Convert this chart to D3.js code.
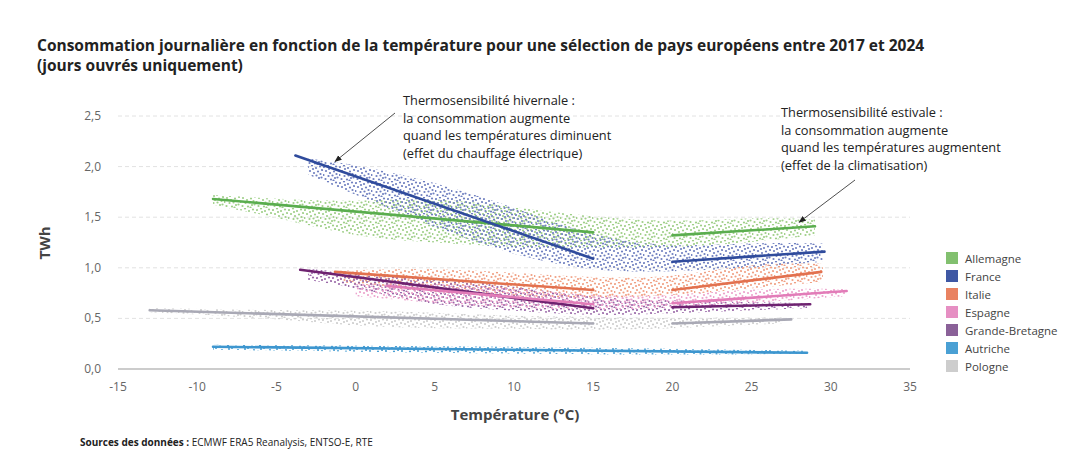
<!DOCTYPE html>
<html>
<head>
<meta charset="utf-8">
<script src="https://cdn.jsdelivr.net/npm/d3@7"></script>
<style>
  body { margin: 0; background: #fff; font-family: "Open Sans", sans-serif; }
</style>
</head>
<body>
<svg id="chart"></svg>
<script>
const width = 1090;
const height = 467;

const countries = ['Allemagne', 'France', 'Italie', 'Espagne', 'Grande-Bretagne', 'Autriche', 'Pologne'];
const lineColors = ['#5aad4e', '#2f4b9c', '#e2714f', '#e27cb8', '#6e2270', '#3d96cf', '#a9a9b5'];
const dotColors = ['#9fcf88', '#6f7fc0', '#f0a083', '#eca2cc', '#9a68a8', '#4aa0d4', '#cdcdcd'];
const legendColors = ['#82c06f', '#3f58a4', '#e98261', '#e68fc3', '#8a6198', '#4aa0d4', '#cdcdcd'];

// regression segments: [t1, v1, t2, v2]
const winterLines = [
  [-9, 1.68, 15, 1.35],
  [-3.8, 2.11, 15, 1.09],
  [-1.3, 0.96, 15, 0.78],
  [2, 0.82, 15, 0.64],
  [-3.5, 0.98, 15, 0.60],
  [-9, 0.22, 28.5, 0.16],
  [-13, 0.58, 15, 0.45]
];
const summerLines = [
  [20, 1.32, 29, 1.41],
  [20, 1.06, 29.6, 1.16],
  [20, 0.78, 29.4, 0.96],
  [20, 0.65, 31, 0.77],
  [20, 0.61, 28.7, 0.64],
  null,
  [20, 0.45, 27.5, 0.49]
];

// scatter clouds: [temperature, low, high]
const clouds = [
  [[-9, 1.62, 1.72], [-5, 1.5, 1.68], [0, 1.3, 1.65], [5, 1.25, 1.7], [10, 1.2, 1.6], [15, 1.2, 1.5], [20, 1.2, 1.45], [25, 1.25, 1.5], [29, 1.32, 1.48]],
  [[-3, 1.92, 2.08], [0, 1.72, 2.02], [5, 1.4, 1.85], [10, 1.12, 1.6], [15, 0.96, 1.3], [20, 0.96, 1.2], [25, 1.0, 1.25], [29.5, 1.06, 1.24]],
  [[-1, 0.86, 0.97], [5, 0.75, 1.0], [10, 0.72, 0.95], [15, 0.7, 0.9], [20, 0.72, 0.9], [25, 0.8, 1.05], [29.5, 0.86, 1.04]],
  [[0, 0.72, 0.84], [5, 0.65, 0.85], [10, 0.6, 0.8], [15, 0.58, 0.72], [20, 0.6, 0.72], [25, 0.65, 0.8], [31, 0.72, 0.79]],
  [[-3, 0.88, 0.99], [0, 0.8, 0.95], [5, 0.62, 0.9], [10, 0.58, 0.82], [15, 0.52, 0.7], [20, 0.55, 0.68], [25, 0.58, 0.66], [28.5, 0.6, 0.65]],
  [[-9, 0.19, 0.24], [0, 0.17, 0.23], [10, 0.15, 0.22], [20, 0.14, 0.2], [28.5, 0.15, 0.18]],
  [[-13, 0.56, 0.6], [-5, 0.5, 0.58], [0, 0.42, 0.58], [5, 0.4, 0.56], [10, 0.4, 0.52], [15, 0.38, 0.52], [20, 0.4, 0.5], [27, 0.45, 0.51]]
];

const xTicks = [-15, -10, -5, 0, 5, 10, 15, 20, 25, 30, 35];
const yTicks = [0, 0.5, 1, 1.5, 2, 2.5];

const svg = d3.select('#chart').attr('width', width).attr('height', height);

const x = d3.scaleLinear().domain([-15, 35]).range([118, 910]);
const y = d3.scaleLinear().domain([0, 2.5]).range([369, 116]);

const fmt = d => d3.format('.1f')(d).replace('.', ',');

// title
svg.append('text').attr('x', 37).attr('y', 51)
  .attr('font-size', 15.5).attr('font-weight', 700).attr('fill', '#222')
  .text('Consommation journalière en fonction de la température pour une sélection de pays européens entre 2017 et 2024');
svg.append('text').attr('x', 37).attr('y', 71)
  .attr('font-size', 15.5).attr('font-weight', 700).attr('fill', '#222')
  .text('(jours ouvrés uniquement)');

// grid
svg.append('g').selectAll('line').data(yTicks.filter(d => d > 0)).enter().append('line')
  .attr('x1', x(-15)).attr('x2', x(35))
  .attr('y1', d => y(d)).attr('y2', d => y(d))
  .attr('stroke', '#e2e2e2').attr('stroke-dasharray', '4,3');

svg.append('g').selectAll('text').data(yTicks).enter().append('text')
  .attr('x', 101).attr('y', d => y(d) + 4).attr('text-anchor', 'end')
  .attr('font-size', 12).attr('fill', '#666').text(fmt);

svg.append('g').selectAll('text').data(xTicks).enter().append('text')
  .attr('x', d => x(d)).attr('y', 391).attr('text-anchor', 'middle')
  .attr('font-size', 12).attr('fill', '#666').text(d => d);

// dot patterns mimicking the scatter clouds
const defs = svg.append('defs');
const tile = [[1, 2], [5, 0.5], [9, 3], [13, 1.5], [3, 6], [7, 8], [11, 6.5], [15, 5], [0.5, 10], [5.5, 11],
  [9.5, 10.5], [13.5, 9], [2.5, 14], [8, 14.5], [12, 13], [6, 4], [10.5, 15.5], [14.5, 12.5]];
countries.forEach((c, i) => {
  const p = defs.append('pattern').attr('id', 'dots' + i)
    .attr('patternUnits', 'userSpaceOnUse').attr('width', 16).attr('height', 16)
    .attr('x', i * 3).attr('y', i * 5);
  p.selectAll('circle').data(tile).enter().append('circle')
    .attr('cx', d => d[0]).attr('cy', d => d[1]).attr('r', 1.1)
    .attr('fill', dotColors[i]);
});

const area = d3.area().curve(d3.curveBasis)
  .x(d => x(d[0])).y0(d => y(d[1])).y1(d => y(d[2]));

const order = [6, 0, 1, 2, 4, 3, 5];
order.forEach(i => {
  svg.append('path').datum(clouds[i]).attr('d', area)
    .attr('fill', 'url(#dots' + i + ')');
});

// baseline
svg.append('line').attr('x1', x(-15)).attr('x2', x(35)).attr('y1', y(0)).attr('y2', y(0))
  .attr('stroke', '#999').attr('stroke-width', 1.2);

// regression lines
order.forEach(i => {
  [winterLines[i], summerLines[i]].forEach(s => {
    if (!s) return;
    svg.append('line')
      .attr('x1', x(s[0])).attr('y1', y(s[1])).attr('x2', x(s[2])).attr('y2', y(s[3]))
      .attr('stroke', lineColors[i]).attr('stroke-width', 2.6).attr('stroke-linecap', 'round');
  });
});

// axis titles
svg.append('text').attr('transform', 'translate(50,243) rotate(-90)')
  .attr('text-anchor', 'middle').attr('font-size', 15).attr('font-weight', 700).attr('fill', '#444')
  .text('TWh');
svg.append('text').attr('x', 515).attr('y', 420).attr('text-anchor', 'middle')
  .attr('font-size', 15).attr('font-weight', 700).attr('fill', '#444')
  .text('Température (°C)');

// annotations
defs.append('marker').attr('id', 'arrow').attr('viewBox', '0 0 10 10')
  .attr('refX', 9).attr('refY', 5).attr('markerWidth', 9).attr('markerHeight', 9)
  .attr('orient', 'auto-start-reverse')
  .append('path').attr('d', 'M0,1 L10,5 L0,9 Z').attr('fill', '#222');

function note(lines, tx, ty, from, to) {
  const t = svg.append('text').attr('font-size', 12.8).attr('fill', '#222');
  lines.forEach((l, k) => t.append('tspan').attr('x', tx).attr('y', ty + k * 17.5).text(l));
  svg.append('line').attr('x1', from[0]).attr('y1', from[1]).attr('x2', to[0]).attr('y2', to[1])
    .attr('stroke', '#222').attr('stroke-width', 0.8).attr('marker-end', 'url(#arrow)');
}
note(['Thermosensibilité hivernale :', 'la consommation augmente', 'quand les températures diminuent', '(effet du chauffage électrique)'],
  403, 105, [395, 113], [x(-1.3), y(2.05)]);
note(['Thermosensibilité estivale :', 'la consommation augmente', 'quand les températures augmentent', '(effet de la climatisation)'],
  781, 117, [855, 180], [x(28), y(1.45)]);

// legend
const lg = svg.append('g').attr('transform', 'translate(946,252)');
countries.forEach((c, i) => {
  lg.append('rect').attr('x', 0).attr('y', i * 18).attr('width', 12).attr('height', 12).attr('fill', legendColors[i]);
  lg.append('text').attr('x', 19).attr('y', i * 18 + 10.5).attr('font-size', 11.5).attr('fill', '#444').text(c);
});

// source
const src = svg.append('text').attr('x', 80).attr('y', 446).attr('font-size', 10).attr('fill', '#222');
src.append('tspan').attr('font-weight', 700).text('Sources des données : ');
src.append('tspan').text('ECMWF ERA5 Reanalysis, ENTSO-E, RTE');
</script>
</body>
</html>
